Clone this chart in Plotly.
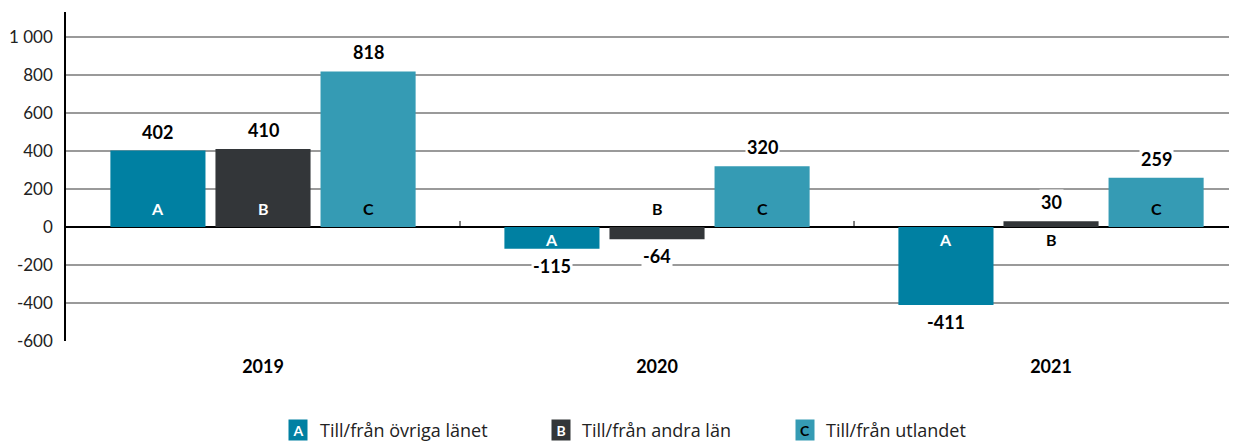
import plotly.graph_objects as go

years = ["2019", "2020", "2021"]
series_names = ["Till/från övriga länet", "Till/från andra län", "Till/från utlandet"]
series_letters = ["A", "B", "C"]
values_a = [402, -115, -411]
values_b = [410, -64, 30]
values_c = [818, 320, 259]
y_tickvals = [-600, -400, -200, 0, 200, 400, 600, 800, 1000]
y_ticktext = ["-600", "-400", "-200", "0", "200", "400", "600", "800", "1 000"]

colors = ["rgb(0,128,162)", "rgb(51,54,57)", "rgb(53,155,180)"]
letter_colors = ["white", "white", "black"]
FONT = "Century Gothic, Lato, sans-serif"
LEG_FONT = "Century Gothic, Open Sans, sans-serif"

OFF = 8  # page body margin
W, H = 1237 - OFF, 443 - OFF
ML, MR, MT, MB = 66 - OFF, 0, 12 - OFF, 443 - 341
plot_w = W - ML - MR
plot_h = H - MT - MB
bargap, bargroupgap = 0.2, 0.095
xrange = [-0.5, 2.472]

fig = go.Figure()
all_values = [values_a, values_b, values_c]
x_idx = list(range(len(years)))
for k, vals in enumerate(all_values):
    fig.add_trace(go.Bar(x=x_idx, y=vals, name=series_names[k],
                         marker=dict(color=colors[k], line=dict(width=0)),
                         showlegend=False))

annotations = []
slot = (1 - bargap) / 3
for k, vals in enumerate(all_values):
    for i, v in enumerate(vals):
        xc = i + (k - 1) * slot
        annotations.append(dict(x=xc, y=v, xref="x", yref="y", text=f"{v}",
                                showarrow=False, bgcolor="white",
                                yshift=19 if v >= 0 else -17,
                                font=dict(family=FONT, size=18, color="black", weight="bold")))
        up = v >= 0
        if abs(v) < 100:
            up = not up
        inside = (up == (v >= 0))
        annotations.append(dict(x=xc, y=0, xref="x", yref="y", text=series_letters[k],
                                showarrow=False, yshift=18 if up else -13,
                                font=dict(family=FONT, size=16, weight="bold",
                                          color=letter_colors[k] if inside else "black")))

def px_to_paper_x(px):
    return (px - OFF - ML) / plot_w

def px_to_paper_y(py):
    return (OFF + H - MB - py) / plot_h

legend_sq_x = [298, 561, 805]
legend_txt_x = [318, 580, 824]
leg_y = px_to_paper_y(430)
for k in range(3):
    annotations.append(dict(x=px_to_paper_x(legend_sq_x[k]), y=leg_y, xref="paper", yref="paper",
                            text=series_letters[k], showarrow=False, bgcolor=colors[k],
                            width=16, height=18, borderpad=1, xanchor="center", yanchor="middle",
                            font=dict(family=FONT, size=14, weight="bold", color=letter_colors[k])))
    annotations.append(dict(x=px_to_paper_x(legend_txt_x[k]), y=leg_y, xref="paper", yref="paper",
                            text=series_names[k], showarrow=False, xanchor="left", yanchor="middle",
                            font=dict(family=LEG_FONT, size=18, color="#222222")))

shapes = []
for b in [0.5, 1.5]:
    shapes.append(dict(type="line", xref="x", yref="y", x0=b, x1=b, y0=0, y1=6,
                       ysizemode="pixel", yanchor=0, line=dict(color="black", width=1)))

fig.update_layout(
    width=W, height=H,
    margin=dict(l=ML, r=MR, t=MT, b=MB),
    paper_bgcolor="white", plot_bgcolor="white",
    barmode="group", bargap=bargap, bargroupgap=bargroupgap,
    showlegend=False,
    annotations=annotations,
    shapes=shapes,
    font=dict(family=FONT, color="#222222"),
    xaxis=dict(range=xrange, tickvals=x_idx, ticktext=years, showgrid=False,
               zeroline=False, showline=False, ticks="", ticklabelstandoff=13,
               tickfont=dict(family=FONT, size=18, color="black", weight="bold")),
    yaxis=dict(range=[-600, 1131], tickvals=y_tickvals, ticktext=y_ticktext,
               showgrid=True, gridcolor="#9a9a9a", gridwidth=1.5,
               zeroline=True, zerolinecolor="black", zerolinewidth=1.5,
               showline=True, linecolor="black", linewidth=1.5,
               ticks="", ticklabelstandoff=8,
               tickfont=dict(family=FONT, size=17, color="#222222")),
)

fig.write_html("out.html")
